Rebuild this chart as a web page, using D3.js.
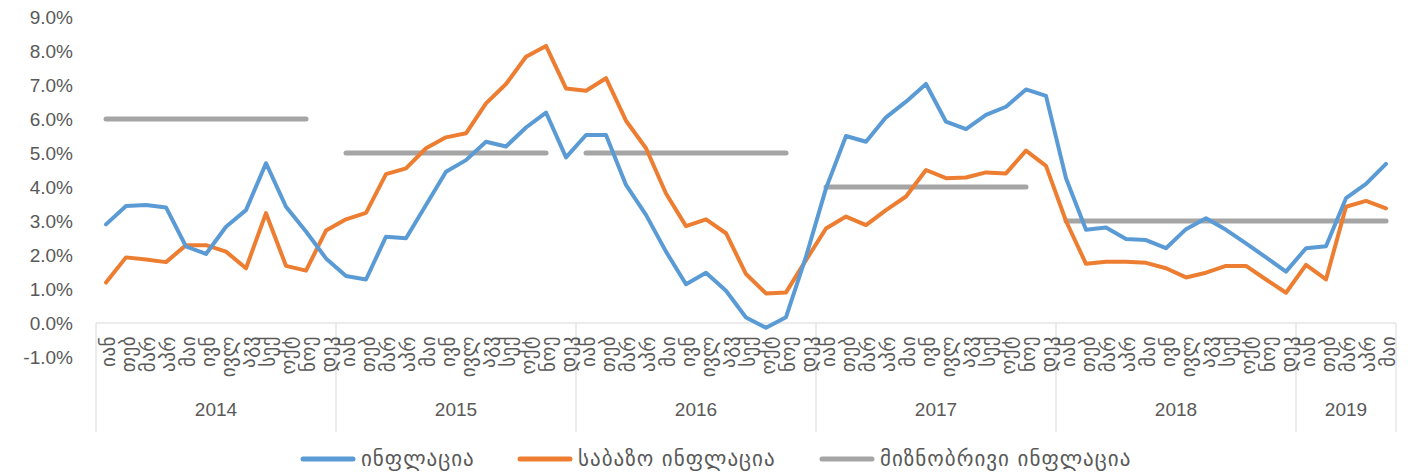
<!DOCTYPE html>
<html>
<head>
<meta charset="utf-8">
<script src="https://cdn.jsdelivr.net/npm/d3@7"></script>
<style>
  body { margin: 0; background: #fff; }
  svg text { fill: #595959; }
</style>
</head>
<body>
<svg id="chart"></svg>
<script>
// chart size
const width = 1408;
const height = 473;

// month and year labels
const monthNames = ["იან", "თებ", "მარ", "აპრ", "მაი", "ივნ", "ივლ", "აგვ", "სექ", "ოქტ", "ნოე", "დეკ"];
const years = ["2014", "2015", "2016", "2017", "2018", "2019"];
const monthsPerYear = [12, 12, 12, 12, 12, 5];

// headline inflation, % y/y
const inflation = [
  2.90, 3.44, 3.47, 3.40, 2.25, 2.03, 2.83, 3.32, 4.70, 3.42, 2.69, 1.90,
  1.38, 1.28, 2.54, 2.49, 3.47, 4.45, 4.79, 5.33, 5.19, 5.75, 6.19, 4.87,
  5.53, 5.53, 4.06, 3.18, 2.10, 1.14, 1.48, 0.95, 0.16, -0.14, 0.17, 1.95,
  3.96, 5.50, 5.33, 6.05, 6.51, 7.03, 5.92, 5.70, 6.12, 6.36, 6.87, 6.68,
  4.26, 2.74, 2.81, 2.47, 2.44, 2.20, 2.76, 3.08, 2.74, 2.34, 1.93, 1.51,
  2.20, 2.26, 3.67, 4.09, 4.68
];

// core inflation, % y/y
const coreInflation = [
  1.19, 1.93, 1.87, 1.79, 2.29, 2.29, 2.10, 1.61, 3.23, 1.68, 1.54, 2.72,
  3.05, 3.24, 4.38, 4.55, 5.14, 5.46, 5.58, 6.46, 7.03, 7.83, 8.15, 6.90,
  6.83, 7.20, 5.95, 5.14, 3.81, 2.85, 3.05, 2.64, 1.44, 0.87, 0.90, 1.85,
  2.78, 3.13, 2.88, 3.32, 3.72, 4.50, 4.26, 4.28, 4.43, 4.40, 5.07, 4.62,
  3.00, 1.74, 1.80, 1.80, 1.77, 1.61, 1.34, 1.48, 1.68, 1.68, 1.28, 0.89,
  1.71, 1.28, 3.42, 3.59, 3.37
];

// inflation target periods (first month index, last month index, value)
const targetStart = [0, 12, 24, 36, 48];
const targetEnd = [10, 22, 34, 46, 64];
const targetValue = [6, 5, 5, 4, 3];

const seriesNames = ["ინფლაცია", "საბაზო ინფლაცია", "მიზნობრივი ინფლაცია"];
const colors = ["#5B9BD5", "#ED7D31", "#A5A5A5"];

// month labels for every point
const labels = [];
monthsPerYear.forEach(n => { for (let m = 0; m < n; m++) labels.push(monthNames[m]); });
const idx = d3.range(labels.length);

const svg = d3.select("#chart")
  .attr("width", width)
  .attr("height", height);

const plotLeft = 96, plotRight = 1396, plotTop = 17, plotBottom = 357;

const x = d3.scaleBand().domain(idx).range([plotLeft, plotRight]);
const cx = i => x(i) + x.bandwidth() / 2;
const y = d3.scaleLinear().domain([-1, 9]).range([plotBottom, plotTop]);

// y axis
const yAxis = svg.append("g")
  .attr("transform", `translate(${plotLeft},0)`)
  .call(d3.axisLeft(y)
    .tickValues(d3.range(-1, 10))
    .tickFormat(d => d.toFixed(1) + "%")
    .tickSize(0)
    .tickPadding(23));
yAxis.select(".domain").remove();
yAxis.selectAll("text")
  .style("font-family", "'Liberation Sans', Arial, sans-serif")
  .style("font-size", "19px")
  .style("fill", "#595959");

// x axis line at zero
svg.append("line")
  .attr("x1", plotLeft).attr("x2", plotRight)
  .attr("y1", y(0)).attr("y2", y(0))
  .attr("stroke", "#d9d9d9").attr("stroke-width", 1);

// year separators
const yearStarts = [0];
monthsPerYear.forEach((n, i) => yearStarts.push(yearStarts[i] + n));
const sepX = d => d < labels.length ? x(d) : plotRight;
svg.selectAll("line.sep")
  .data(yearStarts)
  .enter().append("line")
  .attr("class", "sep")
  .attr("x1", sepX)
  .attr("x2", sepX)
  .attr("y1", y(0)).attr("y2", 432)
  .attr("stroke", "#d9d9d9").attr("stroke-width", 1);

// month labels
const xAxis = svg.append("g")
  .attr("transform", `translate(0,${y(0)})`)
  .call(d3.axisBottom(x).tickFormat(i => labels[i]).tickSize(0).tickPadding(0));
xAxis.select(".domain").remove();
xAxis.selectAll("text")
  .attr("transform", "rotate(-90)")
  .attr("x", -13)
  .attr("y", 0)
  .attr("dy", "0.45em")
  .style("text-anchor", "end")
  .style("font-family", "'DejaVu Sans', sans-serif")
  .style("font-size", "19px")
  .style("letter-spacing", "0.5px")
  .style("fill", "#595959");

// year labels
svg.selectAll("text.year")
  .data(years)
  .enter().append("text")
  .attr("class", "year")
  .attr("x", (d, i) => (sepX(yearStarts[i]) + sepX(yearStarts[i + 1])) / 2)
  .attr("y", 416)
  .attr("text-anchor", "middle")
  .style("font-family", "'Liberation Sans', Arial, sans-serif")
  .style("font-size", "19px")
  .text(d => d);

function drawSeries(values, color) {
  svg.append("path")
    .datum(idx)
    .attr("fill", "none")
    .attr("stroke", color)
    .attr("stroke-width", 4)
    .attr("stroke-linejoin", "round")
    .attr("stroke-linecap", "round")
    .attr("d", d3.line().x(i => cx(i)).y(i => y(values[i])));
}

// target segments
targetStart.forEach((s, k) => {
  svg.append("path")
    .datum(d3.range(s, targetEnd[k] + 1))
    .attr("fill", "none")
    .attr("stroke", colors[2])
    .attr("stroke-width", 5)
    .attr("stroke-linecap", "round")
    .attr("d", d3.line().x(i => cx(i)).y(() => y(targetValue[k])));
});

drawSeries(coreInflation, colors[1]);
drawSeries(inflation, colors[0]);

// legend
const legendX = [303, 520, 822];
const legend = svg.selectAll("g.legend")
  .data(seriesNames)
  .enter().append("g")
  .attr("class", "legend")
  .attr("transform", (d, i) => `translate(${legendX[i]},459)`);
legend.append("line")
  .attr("x1", 0).attr("x2", 50)
  .attr("stroke", (d, i) => colors[i])
  .attr("stroke-width", 5)
  .attr("stroke-linecap", "round");
legend.append("text")
  .attr("x", 58)
  .attr("dy", "0.35em")
  .style("font-family", "'DejaVu Sans', sans-serif")
  .style("font-size", "21px")
  .style("letter-spacing", "1px")
  .text(d => d);
</script>
</body>
</html>
